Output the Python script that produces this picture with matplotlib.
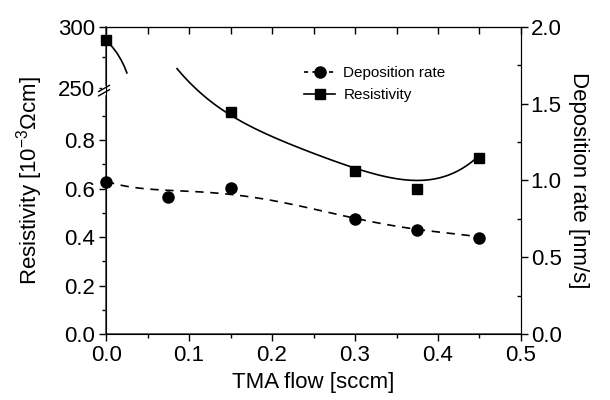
import matplotlib.pyplot as plt
import numpy as np

plt.rcParams['font.family'] = ['Liberation Sans', 'DejaVu Sans']
plt.rcParams['mathtext.fontset'] = 'custom'
plt.rcParams['mathtext.rm'] = 'Liberation Sans'
plt.rcParams['mathtext.it'] = 'Liberation Sans:italic'

# --- data ---
tma_dep = [0.0, 0.075, 0.15, 0.3, 0.375, 0.45]
dep_rate = [0.99, 0.89, 0.95, 0.75, 0.68, 0.625]          # nm/s (right axis)

tma_res = [0.15, 0.3, 0.375, 0.45]
resistivity = [0.915, 0.672, 0.60, 0.726]                 # 1e-3 Ohm cm (lower segment)
tma_res_high = [0.0]
resistivity_high = [289]                                  # 1e-3 Ohm cm (upper segment)

# fitted guide curves
dep_fit_x = [0.0, 0.033, 0.057, 0.09, 0.125, 0.149, 0.174, 0.213, 0.254, 0.299, 0.33, 0.375, 0.411, 0.45]
dep_fit_y = [0.99, 0.972, 0.935, 0.919, 0.922, 0.92, 0.895, 0.853, 0.808, 0.757, 0.718, 0.684, 0.658, 0.632]

res_fit_x = [0.0855, 0.0976, 0.113, 0.125, 0.149, 0.194, 0.234, 0.258, 0.273, 0.299, 0.330, 0.363, 0.394, 0.426, 0.447]
res_fit_y = [1.10, 1.047, 0.994, 0.953, 0.905, 0.829, 0.771, 0.738, 0.718, 0.677, 0.647, 0.631, 0.647, 0.685, 0.72]

guide_x = [0.001, 0.007, 0.013, 0.018, 0.022, 0.025]
guide_y = [288, 284, 278.7, 273, 267.5, 262.3]

# broken left axis: lower 0..~1.0, upper 250..300
BRK_LO = 1.015   # axis position of 250
BRK_HI = 1.266   # axis position of 300


def up(v):
    return BRK_LO + (np.asarray(v) - 250) / 50 * (BRK_HI - BRK_LO)


fig = plt.figure(figsize=(6.1, 4.0), dpi=100)
ax = fig.add_axes([0.174, 0.165, 0.68, 0.7675])
ax2 = ax.twinx()

# smooth the read guide curves a little
xd = np.linspace(0, 0.45, 120)
ax2.plot(xd, np.polyval(np.polyfit(dep_fit_x, dep_fit_y, 5), xd),
         color='black', lw=1.2, ls=(0, (5, 4)))
ax2.plot(tma_dep, dep_rate, 'o', color='black', ms=8, clip_on=False, zorder=5)

xr = np.linspace(0.0855, 0.447, 120)
ax.plot(xr, np.polyval(np.polyfit(res_fit_x, res_fit_y, 4), xr), color='black', lw=1.2)
ax.plot(guide_x, up(guide_y), color='black', lw=1.2)
ax.plot(tma_res, resistivity, 's', color='black', ms=7.5, zorder=5)
ax.plot(tma_res_high, up(resistivity_high), 's', color='black', ms=7.5, clip_on=False, zorder=5)

# legend
h1, = ax.plot([], [], 'o', color='black', ls=(0, (2.5, 2.5)), lw=1.2, ms=8)
h2, = ax.plot([], [], 's-', color='black', lw=1.2, ms=7.5)
ax.legend([h1, h2], ['Deposition rate', 'Resistivity'], loc='upper left',
          bbox_to_anchor=(0.445, 0.918), frameon=False, fontsize=11,
          handlelength=2.0, handletextpad=0.55, labelspacing=0.55)

# axes ranges and ticks
ax.set_xlim(0, 0.5)
ax.set_ylim(0, BRK_HI)
ax2.set_ylim(0, 2.0)

ax.set_xticks([0, 0.1, 0.2, 0.3, 0.4, 0.5])
ax.set_xticklabels(['0.0', '0.1', '0.2', '0.3', '0.4', '0.5'])
ax.set_xticks(np.arange(0.05, 0.5, 0.1), minor=True)

yt = [0.0, 0.2, 0.4, 0.6, 0.8, BRK_LO, BRK_HI]
ax.set_yticks(yt)
ax.set_yticklabels(['0.0', '0.2', '0.4', '0.6', '0.8', '250', '300'])
ax.set_yticks([0.1, 0.3, 0.5, 0.7, 0.9, float(up(275))], minor=True)

ax2.set_yticks([0.0, 0.5, 1.0, 1.5, 2.0])
ax2.set_yticklabels(['0.0', '0.5', '1.0', '1.5', '2.0'])
ax2.set_yticks([0.25, 0.75, 1.25, 1.75], minor=True)

ax.tick_params(axis='both', which='major', labelsize=16, direction='out', length=5, width=1, pad=3)
ax.tick_params(axis='both', which='minor', direction='out', length=3, width=1)
ax2.tick_params(axis='y', which='major', labelsize=16, direction='out', length=5, width=1, pad=2)
ax2.tick_params(axis='y', which='minor', direction='in', length=3, width=1)

top = ax.secondary_xaxis('top')
top.set_xticks(np.arange(0, 0.51, 0.05))
top.tick_params(direction='in', length=5, width=1, labeltop=False)

ax.set_xlabel('TMA flow [sccm]', fontsize=16, labelpad=4)
ax.set_ylabel('Resistivity [10$^{-3}$\u03a9cm]', fontsize=16, labelpad=9)
ax2.set_ylabel('Deposition rate [nm/s]', fontsize=16, rotation=-90, labelpad=20)

for s in ['left', 'bottom']:
    ax.spines[s].set_color('#444444')
    ax.spines[s].set_linewidth(1.2)

# axis break marks on left spine
yb = (BRK_LO - 0.01) / BRK_HI
kw = dict(transform=ax.transAxes, color='black', lw=1, clip_on=False)
ax.plot([-0.005, -0.005], [yb - 0.008, yb + 0.008], transform=ax.transAxes,
        color='white', lw=3, clip_on=False, zorder=6)
ax.plot([-0.018, 0.008], [yb - 0.018, yb + 0.002], zorder=7, **kw)
ax.plot([-0.018, 0.008], [yb - 0.004, yb + 0.016], zorder=7, **kw)

plt.savefig('out.png', dpi=100)
